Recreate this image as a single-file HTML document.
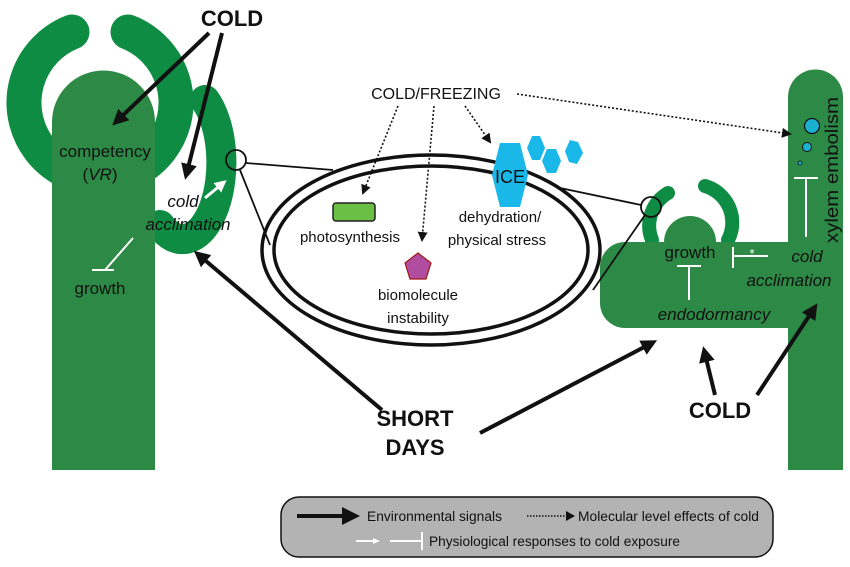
<!DOCTYPE html>
<html><head><meta charset="utf-8"><style>
html,body{margin:0;padding:0;background:#fff}
svg{display:block}
text{font-family:"Liberation Sans",sans-serif;fill:#111}
</style></head><body>
<svg width="850" height="567" viewBox="0 0 850 567" xmlns="http://www.w3.org/2000/svg">
<defs>
<marker id="ah" markerWidth="4" markerHeight="4" refX="2" refY="2" orient="auto" markerUnits="strokeWidth"><path d="M0,0 L4,2 L0,4 Z" fill="#111"/></marker>
<marker id="dh" markerWidth="10" markerHeight="10" refX="8" refY="5" orient="auto" markerUnits="userSpaceOnUse"><path d="M0,0 L10,5 L0,10 Z" fill="#111"/></marker>
<marker id="wh" markerWidth="4" markerHeight="4" refX="2" refY="2" orient="auto" markerUnits="strokeWidth"><path d="M0,0 L4,2 L0,4 Z" fill="#fff"/></marker>
</defs>
<!-- left plant -->
<path d="M72,32 A76,76 0 1 0 128,32" fill="none" stroke="#0e8c43" stroke-width="35" stroke-linecap="round"/>
<path d="M205,100 A33,65 0 0 1 160,225" fill="none" stroke="#0e8c43" stroke-width="30" stroke-linecap="round"/>
<path d="M52,470 L52,122 A51.5,51.5 0 0 1 155,122 L155,470 Z" fill="#2d8a46"/>
<!-- right plant -->
<path d="M668,193 A38,38 0 0 0 652,240" fill="none" stroke="#0e8c43" stroke-width="14" stroke-linecap="round"/>
<path d="M705,186 A38,38 0 0 1 728,240" fill="none" stroke="#0e8c43" stroke-width="14" stroke-linecap="round"/>
<circle cx="690" cy="242" r="26" fill="#2d8a46"/>
<path d="M788,470 L788,97 A27.5,27.5 0 0 1 843,97 L843,470 Z" fill="#2d8a46"/>
<path d="M625,242 L790,242 L790,328 L625,328 A25,25 0 0 1 600,303 L600,267 A25,25 0 0 1 625,242 Z" fill="#2d8a46"/>
<!-- connecting lines and cell -->
<line x1="246" y1="163" x2="333" y2="170" stroke="#111" stroke-width="1.8"/>
<line x1="240" y1="170" x2="270" y2="245" stroke="#111" stroke-width="1.8"/>
<line x1="641" y1="205" x2="560" y2="188" stroke="#111" stroke-width="1.8"/>
<line x1="645" y1="215" x2="593" y2="290" stroke="#111" stroke-width="1.8"/>
<ellipse cx="431" cy="250" rx="169" ry="95" fill="none" stroke="#111" stroke-width="3.5"/>
<ellipse cx="431" cy="250" rx="157" ry="84" fill="none" stroke="#111" stroke-width="3.5"/>
<circle cx="236" cy="160" r="10" fill="none" stroke="#111" stroke-width="1.8"/>
<circle cx="651" cy="207" r="10" fill="none" stroke="#111" stroke-width="1.8"/>
<!-- cell contents -->
<rect x="333" y="203" width="42" height="18" rx="3" fill="#6abf45" stroke="#222" stroke-width="1.5"/>
<polygon points="418,253 431,263 426,279 410,279 405,263" fill="#b04d9e" stroke="#a01818" stroke-width="1.2"/>
<polygon points="500,143 520,143 528,175 520,207 500,207 492,175" fill="#1ab8e8"/>
<polygon points="532,136 540,136 545,148 540,160 532,160 527,148" fill="#1ab8e8"/>
<polygon points="547,149 556,149 561,161 556,173 547,173 542,161" fill="#1ab8e8"/>
<polygon points="570,140 578,142 583,153 577,164 569,162 565,151" fill="#1ab8e8"/>
<text x="510" y="183" font-size="18" text-anchor="middle">ICE</text>
<text x="350" y="242" font-size="15" text-anchor="middle">photosynthesis</text>
<text x="418" y="300" font-size="15" text-anchor="middle">biomolecule</text>
<text x="418" y="323" font-size="15" text-anchor="middle">instability</text>
<text x="500" y="222" font-size="15" text-anchor="middle">dehydration/</text>
<text x="497" y="245" font-size="15" text-anchor="middle">physical stress</text>
<!-- COLD/FREEZING -->
<text x="436" y="99" font-size="16" text-anchor="middle">COLD/FREEZING</text>
<g stroke="#111" stroke-width="1.6" stroke-dasharray="2,2" fill="none">
<line x1="398" y1="106" x2="363" y2="193" marker-end="url(#dh)"/>
<line x1="434" y1="106" x2="422" y2="240" marker-end="url(#dh)"/>
<line x1="465" y1="106" x2="490" y2="142" marker-end="url(#dh)"/>
<line x1="517" y1="94" x2="790" y2="134" marker-end="url(#dh)"/>
</g>
<!-- right plant details -->
<circle cx="812" cy="126" r="7.5" fill="#1ab0d0" stroke="#111" stroke-width="1.2"/>
<circle cx="807" cy="147" r="4.5" fill="#1ab0d0" stroke="#111" stroke-width="1"/>
<circle cx="800" cy="163" r="2" fill="#1ab0d0" stroke="#111" stroke-width="0.8"/>
<g stroke="#fff" stroke-width="2" fill="none">
<line x1="806" y1="178" x2="806" y2="237"/><line x1="794" y1="178" x2="818" y2="178"/>
<line x1="689" y1="266" x2="689" y2="300"/><line x1="677" y1="266" x2="701" y2="266"/>
<line x1="733" y1="247" x2="733" y2="268"/><line x1="733" y1="256" x2="768" y2="256"/>
<line x1="133" y1="238" x2="105" y2="270"/><line x1="92" y1="270" x2="114" y2="270"/>
</g>
<text x="752" y="258" font-size="13" style="fill:#fff" text-anchor="middle">*</text>
<text transform="translate(838,170) rotate(-90)" font-size="18" text-anchor="middle" textLength="146" lengthAdjust="spacingAndGlyphs">xylem embolism</text>
<text x="690" y="258" font-size="17" text-anchor="middle">growth</text>
<text x="714" y="320" font-size="17" font-style="italic" text-anchor="middle">endodormancy</text>
<text x="807" y="262" font-size="17" font-style="italic" text-anchor="middle">cold</text>
<text x="789" y="286" font-size="17" font-style="italic" text-anchor="middle">acclimation</text>
<!-- left plant text -->
<text x="105" y="157" font-size="17" text-anchor="middle">competency</text>
<text x="100" y="180" font-size="17" text-anchor="middle">(<tspan font-style="italic">VR</tspan>)</text>
<text x="183" y="207" font-size="17" font-style="italic" text-anchor="middle">cold</text>
<text x="188" y="230" font-size="17" font-style="italic" text-anchor="middle">acclimation</text>
<text x="100" y="294" font-size="17" text-anchor="middle">growth</text>
<line x1="205" y1="198" x2="222" y2="184" stroke="#fff" stroke-width="3" marker-end="url(#wh)"/>
<!-- COLD top -->
<text x="232" y="26" font-size="22" font-weight="bold" text-anchor="middle">COLD</text>
<g stroke="#111" stroke-width="4" fill="none">
<line x1="209" y1="33" x2="118" y2="120" marker-end="url(#ah)"/>
<line x1="222" y1="33" x2="187" y2="172" marker-end="url(#ah)"/>
<line x1="382" y1="410" x2="200" y2="256" marker-end="url(#ah)"/>
<line x1="480" y1="433" x2="650" y2="344" marker-end="url(#ah)"/>
<line x1="715" y1="395" x2="705" y2="354" marker-end="url(#ah)"/>
<line x1="757" y1="395" x2="813" y2="310" marker-end="url(#ah)"/>
</g>
<text x="415" y="426" font-size="22" font-weight="bold" text-anchor="middle">SHORT</text>
<text x="415" y="455" font-size="22" font-weight="bold" text-anchor="middle">DAYS</text>
<text x="720" y="418" font-size="22" font-weight="bold" text-anchor="middle">COLD</text>
<!-- legend -->
<rect x="281" y="497" width="492" height="60" rx="18" fill="#b3b3b3" stroke="#111" stroke-width="1.5"/>
<line x1="297" y1="516" x2="350" y2="516" stroke="#111" stroke-width="4"/>
<polygon points="342,507 360,516 342,525" fill="#111"/>
<text x="367" y="521" font-size="13.5" textLength="135" lengthAdjust="spacingAndGlyphs">Environmental signals</text>
<line x1="527" y1="516" x2="567" y2="516" stroke="#111" stroke-width="1.5" stroke-dasharray="1.5,1.5"/>
<polygon points="566,511 575,516 566,521" fill="#111"/>
<text x="578" y="521" font-size="13.5" textLength="181" lengthAdjust="spacingAndGlyphs">Molecular level effects of cold</text>
<line x1="356" y1="541" x2="376" y2="541" stroke="#fff" stroke-width="2"/>
<polygon points="373,538 380,541 373,544" fill="#fff"/>
<line x1="390" y1="541" x2="422" y2="541" stroke="#fff" stroke-width="2"/>
<line x1="422" y1="532" x2="422" y2="550" stroke="#fff" stroke-width="2"/>
<text x="429" y="546" font-size="13.5" textLength="251" lengthAdjust="spacingAndGlyphs">Physiological responses to cold exposure</text>
</svg>
</body></html>
